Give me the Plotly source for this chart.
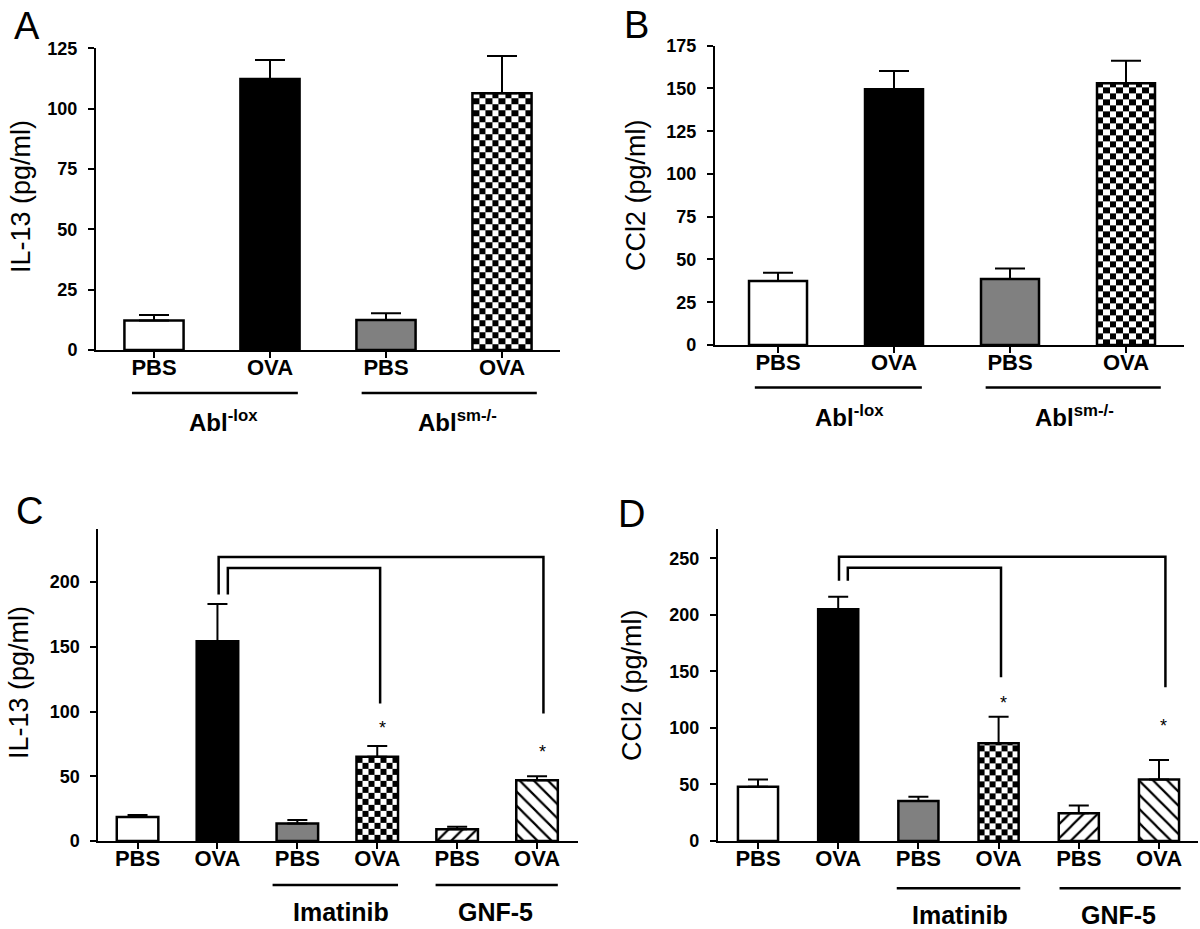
import numpy as np
import plotly.graph_objects as go

W, H = 1200, 929
FONT = "Liberation Sans, Arial, sans-serif"

# ---------------- data ----------------
categories_ab = ["PBS", "OVA", "PBS", "OVA"]
categories_cd = ["PBS", "OVA", "PBS", "OVA", "PBS", "OVA"]

il13_abl_mean = [12.2, 112.3, 12.4, 106.4]
il13_abl_sem = [2.3, 7.9, 2.8, 15.4]
ccl2_abl_mean = [37.4, 149.5, 38.6, 153.0]
ccl2_abl_sem = [4.9, 10.7, 6.2, 13.2]

il13_inh_mean = [18.5, 154.2, 13.6, 65.0, 9.0, 47.0]
il13_inh_sem = [1.5, 28.8, 2.6, 8.3, 2.0, 3.1]
ccl2_inh_mean = [48.0, 204.9, 35.4, 86.4, 24.5, 54.5]
ccl2_inh_sem = [6.5, 11.1, 3.8, 23.6, 7.0, 17.1]

groups_ab = ["Abl<sup>-lox</sup>", "Abl<sup>sm-/-</sup>"]
groups_cd = ["Imatinib", "GNF-5"]

yticks_a = [0, 25, 50, 75, 100, 125]
yticks_b = [0, 25, 50, 75, 100, 125, 150, 175]
yticks_c = [0, 50, 100, 150, 200]
yticks_d = [0, 50, 100, 150, 200, 250]

fills_ab = ["white", "black", "gray", "checker"]
fills_cd = ["white", "black", "gray", "checker", "fwd", "back"]

# ---------------- layout geometry (pixels) ----------------
panels = [
    dict(letter="A", title="IL-13 (pg/ml)", cats=categories_ab, mean=il13_abl_mean, sem=il13_abl_sem,
         fills=fills_ab, yticks=yticks_a, xr=(-0.5, 3.5), yr=(0, 125),
         domx=(96, 560), domy=(350, 48.3), bw=0.51, cap=15, ncols=9,
         letter_xy=(27, 26), title_xy=(21, 197),
         groups=groups_ab, gspans=[(-0.19, 1.24), (1.79, 3.3)], gline_y=393,
         glabel_x=[0.6, 2.62], glabel_y=421, gsize=24,
         brackets=[], stars=[]),
    dict(letter="B", title="CCl2 (pg/ml)", cats=categories_ab, mean=ccl2_abl_mean, sem=ccl2_abl_sem,
         fills=fills_ab, yticks=yticks_b, xr=(-0.545, 3.5), yr=(0, 175),
         domx=(714.8, 1184), domy=(345, 45.7), bw=0.5, cap=15, ncols=9,
         letter_xy=(636, 25), title_xy=(636, 195),
         groups=groups_ab, gspans=[(-0.2, 1.24), (1.79, 3.3)], gline_y=387.5,
         glabel_x=[0.62, 2.56], glabel_y=416, gsize=24,
         brackets=[], stars=[]),
    dict(letter="C", title="IL-13 (pg/ml)", cats=categories_cd, mean=il13_inh_mean, sem=il13_inh_sem,
         fills=fills_cd, yticks=yticks_c, xr=(-0.49, 5.51), yr=(0, 241),
         domx=(98.4, 577.8), domy=(841, 529), bw=0.52, cap=10, ncols=7,
         letter_xy=(29, 511), title_xy=(19, 683),
         groups=groups_cd, gspans=[(1.69, 3.26), (3.73, 5.26)], gline_y=885,
         glabel_x=[2.55, 4.48], glabel_y=912, gsize=25,
         brackets=[(1.015, 5.08, 219.3, 190.5, 98.5), (1.13, 3.036, 210.8, 190.5, 106.2)],
         stars=[(3.07, 90.7), (5.07, 72.2)]),
    dict(letter="D", title="CCl2 (pg/ml)", cats=categories_cd, mean=ccl2_inh_mean, sem=ccl2_inh_sem,
         fills=fills_cd, yticks=yticks_d, xr=(-0.5, 5.49), yr=(0, 276),
         domx=(717.9, 1198.3), domy=(841, 529), bw=0.5, cap=10, ncols=7,
         letter_xy=(631, 514), title_xy=(632, 685),
         groups=groups_cd, gspans=[(1.73, 3.27), (3.76, 5.27)], gline_y=888.3,
         glabel_x=[2.52, 4.5], glabel_y=915, gsize=25,
         brackets=[(1.01, 5.08, 251.5, 230.2, 135.9), (1.12, 3.03, 241.7, 230.2, 144.8)],
         stars=[(3.06, 125.3), (5.05, 105.5)]),
]

CELL_PX = 6.0
FILL_COLOR = {"white": "white", "black": "black", "gray": "#808080",
              "checker": "rgba(0,0,0,0)", "fwd": "white", "back": "white"}
FILL_PATTERN = {"fwd": "/", "back": "\\"}


def px_x(p):
    return p / W


def px_y(p):
    return 1 - p / H


fig = go.Figure()
shapes = []
annotations = []

for k, p in enumerate(panels):
    sfx = "" if k == 0 else str(k + 1)
    xa, ya = "x" + sfx, "y" + sfx
    n = len(p["cats"])
    xs = list(range(n))
    units_per_px = (p["yr"][1] - p["yr"][0]) / (p["domy"][0] - p["domy"][1])
    cell_h = CELL_PX * units_per_px

    # checkerboard fills drawn as heatmaps beneath the bar outlines
    for i, f in enumerate(p["fills"]):
        if f != "checker":
            continue
        v = p["mean"][i]
        x_edges = np.linspace(i - p["bw"] / 2, i + p["bw"] / 2, p["ncols"] + 1)
        y_edges = list(np.arange(0, v, cell_h))
        y_edges.append(v)
        nrows = len(y_edges) - 1
        z = [[(r + c) % 2 for c in range(p["ncols"])] for r in range(nrows)]
        fig.add_trace(go.Heatmap(x=x_edges, y=y_edges, z=z, zmin=0, zmax=1,
                                 colorscale=[[0, "white"], [1, "black"]], showscale=False,
                                 hoverinfo="skip", xaxis=xa, yaxis=ya))

    # one bar trace per fill style (overlay mode keeps bars centred)
    for style in dict.fromkeys(p["fills"]):
        idx = [i for i, f in enumerate(p["fills"]) if f == style]
        marker = dict(color=FILL_COLOR[style], line=dict(color="black", width=2.5))
        if style in FILL_PATTERN:
            marker["pattern"] = dict(shape=FILL_PATTERN[style], fgcolor="black", bgcolor="white",
                                     size=10, solidity=0.22)
        fig.add_trace(go.Bar(
            x=idx, y=[p["mean"][i] for i in idx], width=p["bw"], xaxis=xa, yaxis=ya,
            showlegend=False, marker=marker,
            error_y=dict(type="data", array=[p["sem"][i] for i in idx], arrayminus=[0] * len(idx),
                         symmetric=False, color="black", thickness=2, width=p["cap"]),
        ))

    axis_common = dict(showgrid=False, zeroline=False, showline=True, linecolor="black",
                       linewidth=2, ticks="outside", ticklen=6, tickwidth=2, tickcolor="black",
                       fixedrange=True, automargin=False)
    fig.layout["xaxis" + sfx] = dict(
        axis_common, domain=[px_x(p["domx"][0]), px_x(p["domx"][1])], range=list(p["xr"]),
        tickmode="array", tickvals=xs, ticktext=p["cats"], anchor=ya, ticklabelstandoff=-9,
        tickfont=dict(family=FONT, size=22, color="black", weight="bold"))
    fig.layout["yaxis" + sfx] = dict(
        axis_common, domain=[px_y(p["domy"][0]), px_y(p["domy"][1])], range=list(p["yr"]),
        tickmode="array", tickvals=p["yticks"], anchor=xa, ticklabelstandoff=7,
        tickfont=dict(family=FONT, size=18, color="black", weight="bold"))

    # panel letter
    annotations.append(dict(text=p["letter"], xref="paper", yref="paper",
                            x=px_x(p["letter_xy"][0]), y=px_y(p["letter_xy"][1]),
                            xanchor="center", yanchor="middle", showarrow=False,
                            font=dict(family=FONT, size=38, color="black")))
    # y-axis title
    annotations.append(dict(text=p["title"], xref="paper", yref="paper", textangle=-90,
                            x=px_x(p["title_xy"][0]), y=px_y(p["title_xy"][1]),
                            xanchor="center", yanchor="middle", showarrow=False,
                            font=dict(family=FONT, size=27, color="black")))
    # group lines and labels
    for g, (x0, x1), gx in zip(p["groups"], p["gspans"], p["glabel_x"]):
        shapes.append(dict(type="line", xref=xa, yref="paper", x0=x0, x1=x1,
                           y0=px_y(p["gline_y"]), y1=px_y(p["gline_y"]),
                           line=dict(color="black", width=2.5)))
        annotations.append(dict(text=g, xref=xa, yref="paper", x=gx,
                                y=px_y(p["glabel_y"]), xanchor="center", yanchor="middle",
                                showarrow=False,
                                font=dict(family=FONT, size=p["gsize"], color="black",
                                          weight="bold")))
    # significance brackets
    for (bx0, bx1, btop, bl, br) in p["brackets"]:
        path = f"M {bx0},{bl} L {bx0},{btop} L {bx1},{btop} L {bx1},{br}"
        shapes.append(dict(type="path", xref=xa, yref=ya, path=path,
                           line=dict(color="black", width=2.5)))
    for (sx, sy) in p["stars"]:
        annotations.append(dict(text="*", xref=xa, yref=ya, x=sx, y=sy, xanchor="center",
                                yanchor="middle", yshift=-4, showarrow=False,
                                font=dict(family=FONT, size=18, color="black")))

fig.update_layout(template="none", width=W, height=H, autosize=False,
                  margin=dict(l=0, r=0, t=0, b=0, pad=0),
                  paper_bgcolor="white", plot_bgcolor="white", showlegend=False,
                  barmode="overlay", shapes=shapes, annotations=annotations)

fig.write_html("out.html", config={"displayModeBar": False},
               post_script="document.body.style.margin='0px';")
